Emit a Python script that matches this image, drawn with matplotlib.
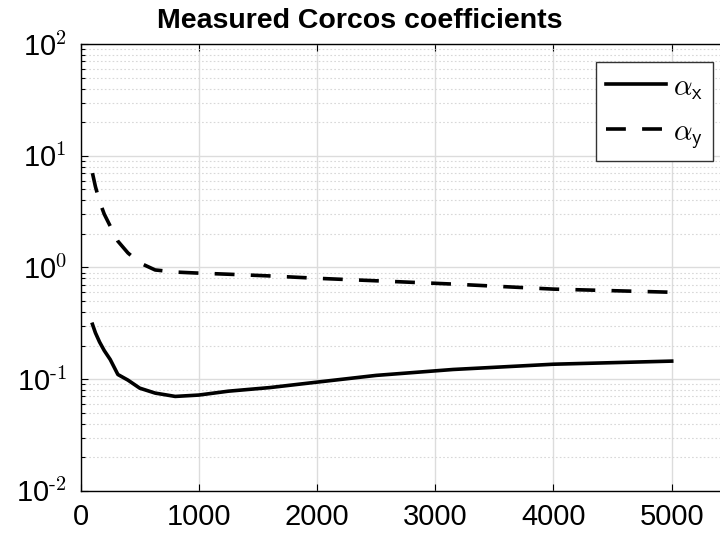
import matplotlib
matplotlib.use("Agg")
import matplotlib.pyplot as plt
from matplotlib.ticker import LogLocator, NullFormatter, FixedLocator, FuncFormatter

plt.rcParams['font.family'] = ['Liberation Sans', 'DejaVu Sans']
plt.rcParams['mathtext.fontset'] = 'cm'

freq = [100, 125, 160, 200, 250, 315, 400, 500, 630, 800, 1000, 1250, 1600,
        2000, 2500, 3150, 4000, 5000]
alpha_x = [0.31, 0.26, 0.215, 0.18, 0.15, 0.11, 0.098, 0.083, 0.075, 0.070,
           0.072, 0.078, 0.084, 0.094, 0.108, 0.122, 0.136, 0.145]
alpha_y = [7.0, 5.3, 3.9, 3.0, 2.35, 1.72, 1.35, 1.1, 0.95, 0.91, 0.89, 0.87,
           0.84, 0.80, 0.76, 0.71, 0.64, 0.60]
labels = [r'$\alpha_{\mathsf{x}}$', r'$\alpha_{\mathsf{y}}$']
title = 'Measured Corcos coefficients'
xticks = [0, 1000, 2000, 3000, 4000, 5000]

fig = plt.figure(figsize=(7.2, 5.42), dpi=100)
ax = fig.add_axes([0.112, 0.0945, 0.903, 0.824])

ax.plot(freq, alpha_x, color='black', lw=2.6, label=labels[0])
ax.plot(freq, alpha_y, color='black', lw=2.6, linestyle=(0, (5.5, 4.5)),
        label=labels[1])

ax.set_yscale('log')
ax.set_ylim(1e-2, 1e2)
ax.set_xlim(0, 5500)
ax.xaxis.set_major_locator(FixedLocator(xticks))
ax.yaxis.set_major_locator(LogLocator(base=10, numticks=10))
ax.yaxis.set_minor_locator(LogLocator(base=10, subs=range(2, 10), numticks=20))
ax.yaxis.set_minor_formatter(NullFormatter())


def logfmt(v, pos):
    e = int(round(__import__('math').log10(v)))
    return r'$\mathdefault{10^{\text{%d}}}$' % e


ax.yaxis.set_major_formatter(FuncFormatter(logfmt))

ax.grid(True, which='major', color='#dcdcdc', lw=1.0, ls='-')
ax.grid(True, which='minor', axis='y', color='#d8d8d8', lw=0.8, ls=(0, (1.5, 2)))
ax.set_axisbelow(True)

ax.tick_params(which='both', direction='in', top=True, right=True,
               labelsize=21, width=0.8, color='black')
ax.tick_params(axis='x', which='major', length=5, pad=9)
ax.tick_params(axis='y', which='major', length=5, pad=10)
ax.tick_params(which='minor', length=3)
for s in ax.spines.values():
    s.set_linewidth(1.0)
    s.set_color('black')

fig.text(0.5, 0.962, title, ha='center', va='center', fontsize=20.5,
         fontweight='bold')

leg = ax.legend(loc='upper right', bbox_to_anchor=(0.973, 0.959),
                fontsize=21, frameon=True, fancybox=False, edgecolor='#333333',
                framealpha=1, handlelength=2.05, borderpad=0.35,
                labelspacing=0.55, handletextpad=0.25, borderaxespad=0)
leg.get_frame().set_linewidth(1.0)

fig.savefig('out.png', dpi=100)
